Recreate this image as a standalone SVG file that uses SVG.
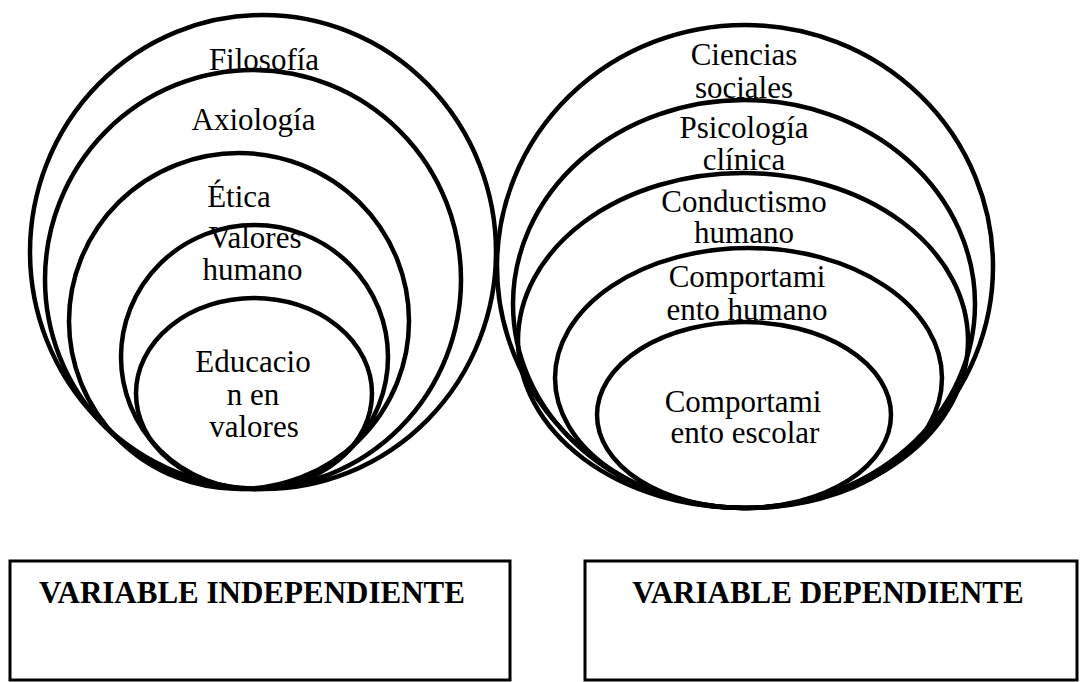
<svg xmlns="http://www.w3.org/2000/svg" width="1086" height="682" viewBox="0 0 1086 682">
<style>
.ring{fill:none;stroke:#000;stroke-width:4.5}
.lbl{font-family:"Liberation Serif","Times New Roman",serif;font-size:31px;fill:#000;text-anchor:middle}
.box{fill:#fff;stroke:#000;stroke-width:3}
.btxt{font-family:"Liberation Serif","Times New Roman",serif;font-size:31px;font-weight:bold;fill:#000;text-anchor:middle}
</style>
<rect width="1086" height="682" fill="#fff"/>
<g id="independent-rings">
<ellipse class="ring" cx="263" cy="252" rx="233" ry="237"/>
<ellipse class="ring" cx="253" cy="279.5" rx="208" ry="209.5"/>
<ellipse class="ring" cx="239" cy="321" rx="170" ry="168"/>
<ellipse class="ring" cx="254.5" cy="357" rx="133.5" ry="132"/>
<ellipse class="ring" cx="254" cy="393.5" rx="118" ry="95.5"/>
</g>
<g id="dependent-rings">
<ellipse class="ring" cx="745" cy="266.5" rx="248" ry="241.5"/>
<ellipse class="ring" cx="744" cy="304" rx="231" ry="204"/>
<ellipse class="ring" cx="743" cy="340.5" rx="225" ry="167.5"/>
<ellipse class="ring" cx="748.5" cy="378" rx="193.5" ry="130"/>
<ellipse class="ring" cx="744" cy="415" rx="147" ry="93"/>
</g>
<g id="independent-labels">
<text class="lbl" x="264" y="70">Filosofía</text>
<text class="lbl" x="253.5" y="130">Axiología</text>
<text class="lbl" x="239" y="207">Ética</text>
<text class="lbl" x="255" y="248">Valores</text>
<text class="lbl" x="252.5" y="280">humano</text>
<text class="lbl" x="253" y="372">Educacio</text>
<text class="lbl" x="253" y="405">n en</text>
<text class="lbl" x="254" y="437">valores</text>
</g>
<g id="dependent-labels">
<text class="lbl" x="744" y="65">Ciencias</text>
<text class="lbl" x="744" y="98">sociales</text>
<text class="lbl" x="744" y="138">Psicología</text>
<text class="lbl" x="744" y="170">clínica</text>
<text class="lbl" x="744" y="212">Conductismo</text>
<text class="lbl" x="744" y="243">humano</text>
<text class="lbl" x="747" y="287">Comportami</text>
<text class="lbl" x="747" y="320">ento humano</text>
<text class="lbl" x="743" y="412">Comportami</text>
<text class="lbl" x="745" y="443">ento escolar</text>
</g>
<g id="box-independiente">
<rect class="box" x="10" y="561" width="500" height="119"/>
<text class="btxt" x="252" y="603">VARIABLE INDEPENDIENTE</text>
</g>
<g id="box-dependiente">
<rect class="box" x="585" y="561" width="492" height="119"/>
<text class="btxt" x="828" y="603">VARIABLE DEPENDIENTE</text>
</g>
<g id="connectors"></g>
</svg>
